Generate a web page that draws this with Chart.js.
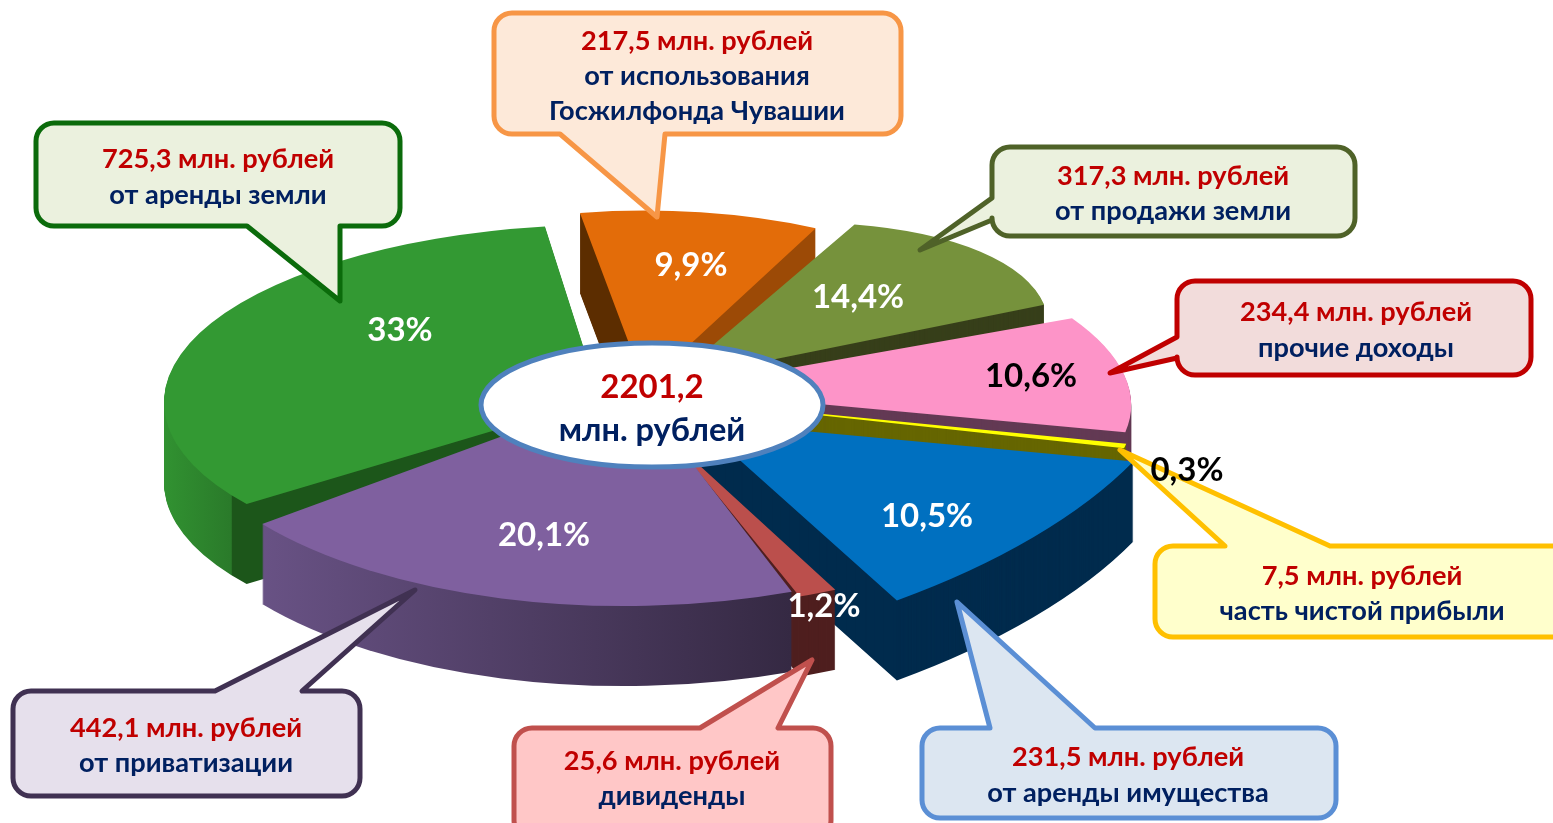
<!DOCTYPE html>
<html><head><meta charset="utf-8">
<style>html,body{margin:0;padding:0;background:#fff;overflow:hidden}canvas{display:block}</style>
<script src="https://cdn.jsdelivr.net/npm/chart.js@4"></script></head>
<body><canvas id="c" width="1553" height="823"></canvas>
<script>
// ---- data ----
const categories = ["от использования Госжилфонда Чувашии","от продажи земли","прочие доходы","часть чистой прибыли","от аренды имущества","дивиденды","от приватизации","от аренды земли"];
const values = [217.5,317.3,234.4,7.5,231.5,25.6,442.1,725.3];
const percents = ["9,9%","14,4%","10,6%","0,3%","10,5%","1,2%","20,1%","33%"];
const totalLines = ["2201,2","млн. рублей"];
// ---- style ----
const topColors = ["#E36C09","#76923C","#FD94C8","#FFFF00","#0070C0","#BB4F4C","#7F609F","#339933"];
const sideColors = [
  [[580,"#5c2d00"],[640,"#5c2d00"],[640.5,"#9c4a06"],[830,"#9c4a06"]],
  "#373f1a","#633a54","#666600","#002b4d","#4f1f1f",
  [[240,"#6b5488"],[800,"#352943"]],
  [[165,"#319231"],[236,"#2a7a2a"],[237,"#1c561a"],[600,"#1c561a"]]
];
const drawOrder = [0,1,2,3,7,4,5,6];
const pieCenter = {x:650,y:400}, depth = 80, firstAngle = -9.6;
// per-slice explosion and projection adjustments (perspective of the 3D pie)
const explodeX = [-5,22,17,20,46,25,-16,-50];
const explodeY = [-14,-20,-10,-1,21,43,-12,-1];
const tilts = [0.45,0.42,0.45,0.45,0.45,0.45,0.45,0.40];
const shears = [0,0.03,0.3,0,0,0,0,-0.05];
const turn = [0,-6.3,-11.35,-13.9,-8.9,-0.5,0.2,1.2];
const widen = [1,0.70,0.836,1,1.41,1.466,0.96,1];
const radii = [390,437,463,467,425,363,486,436];
const labelPos = [[691,265,"#fff"],[858,297,"#fff"],[1031,376,"#000"],[1187,470,"#000"],[927,516,"#fff"],[824,606,"#fff"],[544,535,"#fff"],[400,330,"#fff"]];
const FONT = 'Lato, "Open Sans", sans-serif';
const RED="#C00000", NAVY="#002060";
const callouts = [
 {r:[494,13,407,121],fill:"#FDE9D9",stroke:"#F79646",tail:["b",560,665,657,217],cx:697,lines:[["217,5 млн. рублей",41,RED],["от использования",76,NAVY],["Госжилфонда Чувашии",111,NAVY]]},
 {r:[36,123,364,103],fill:"#EBF1DE",stroke:"#0B6B0B",tail:["b",247,340,340,301],cx:218,lines:[["725,3 млн. рублей",159,RED],["от аренды земли",195,NAVY]]},
 {r:[992,147,363,89],fill:"#EBF1DE",stroke:"#4F6228",tail:["l",198,220,920,250],cx:1173,lines:[["317,3 млн. рублей",176,RED],["от продажи земли",211,NAVY]]},
 {r:[1177,281,354,94],fill:"#F2DCDB",stroke:"#C00000",tail:["l",337,358,1110,373],cx:1356,lines:[["234,4 млн. рублей",312,RED],["прочие доходы",348,NAVY]]},
 {r:[1155,546,420,91],fill:"#FFFFCC",stroke:"#FFC000",tail:["t",1225,1330,1120,450],cx:1362,lines:[["7,5 млн. рублей",576,RED],["часть чистой прибыли",611,NAVY]]},
 {r:[922,728,414,90],fill:"#DCE6F1",stroke:"#5B8FD5",tail:["t",990,1095,957,602],cx:1128,lines:[["231,5 млн. рублей",757,RED],["от аренды имущества",793,NAVY]]},
 {r:[514,728,317,110],fill:"#FFC7C7",stroke:"#C0504D",tail:["t",700,778,812,660],cx:672,lines:[["25,6 млн. рублей",761,RED],["дивиденды",796,NAVY]]},
 {r:[13,691,347,105],fill:"#E6E0EC",stroke:"#403152",tail:["t",215,302,415,590],cx:186,lines:[["442,1 млн. рублей",728,RED],["от приватизации",763,NAVY]]}
];
function sliceMatrix(el,i){
  const mid=(el.startAngle+el.endAngle)/2, rot=turn[i]*Math.PI/180, m=radii[i]/el.outerRadius;
  return new DOMMatrix()
    .translate(pieCenter.x+explodeX[i],pieCenter.y+explodeY[i])
    .skewX(Math.atan(shears[i])*180/Math.PI)
    .scale(1,tilts[i])
    .rotate((mid+rot)*180/Math.PI)
    .scale(m,m*widen[i])
    .rotate(-mid*180/Math.PI)
    .translate(-el.x,-el.y);
}
function sideFill(ctx,M,spec){
  if(typeof spec==="string") return spec;
  const inv=M.inverse(), y=pieCenter.y, x0=spec[0][0], x1=spec[spec.length-1][0];
  const a=inv.transformPoint(new DOMPoint(x0,y)), b=inv.transformPoint(new DOMPoint(x1,y));
  const g=ctx.createLinearGradient(a.x,a.y,b.x,b.y);
  spec.forEach(s=>g.addColorStop((s[0]-x0)/(x1-x0),s[1]));
  return g;
}
const pie3d={id:"pie3d",beforeDatasetsDraw(chart){
  const ctx=chart.ctx, els=chart.getDatasetMeta(0).data;
  drawOrder.forEach(i=>{
    const el=els[i], base=el.options, M=sliceMatrix(el,i);
    const side=Object.create(base); side.backgroundColor=sideFill(ctx,M,sideColors[i]); side.borderWidth=0;
    el.options=side;
    for(let d=depth;d>=1;d--){
      ctx.save(); ctx.setTransform(new DOMMatrix().translate(0,d).multiply(M)); el.draw(ctx); ctx.restore();
    }
    el.options=base;
    ctx.save(); ctx.setTransform(M); el.draw(ctx); ctx.restore();
  });
  return false;
}};
function calloutPath(ctx,c){
  const [x,y,w,h]=c.r, R=18, [edge,a,b,tx,ty]=c.tail;
  ctx.beginPath(); ctx.moveTo(x+R,y);
  if(edge==="t"){ctx.lineTo(a,y);ctx.lineTo(tx,ty);ctx.lineTo(b,y);}
  ctx.lineTo(x+w-R,y); ctx.arcTo(x+w,y,x+w,y+R,R);
  ctx.lineTo(x+w,y+h-R); ctx.arcTo(x+w,y+h,x+w-R,y+h,R);
  if(edge==="b"){ctx.lineTo(b,y+h);ctx.lineTo(tx,ty);ctx.lineTo(a,y+h);}
  ctx.lineTo(x+R,y+h); ctx.arcTo(x,y+h,x,y+h-R,R);
  if(edge==="l"){ctx.lineTo(x,b);ctx.lineTo(tx,ty);ctx.lineTo(x,a);}
  ctx.lineTo(x,y+R); ctx.arcTo(x,y,x+R,y,R); ctx.closePath();
}
const notes={id:"notes",afterDraw(chart){
  const ctx=chart.ctx; ctx.save();
  ctx.textAlign="center"; ctx.textBaseline="middle"; ctx.lineJoin="round";
  callouts.forEach(c=>{
    calloutPath(ctx,c); ctx.fillStyle=c.fill; ctx.fill();
    ctx.lineWidth=5; ctx.strokeStyle=c.stroke; ctx.stroke();
    ctx.font='bold 27.2px '+FONT;
    c.lines.forEach(l=>{ctx.fillStyle=l[2]; ctx.fillText(l[0],c.cx,l[1]);});
  });
  ctx.beginPath(); ctx.ellipse(652,405,171,62,0,0,Math.PI*2);
  ctx.fillStyle="#fff"; ctx.fill(); ctx.lineWidth=5; ctx.strokeStyle="#4F81BD"; ctx.stroke();
  ctx.font='bold 33px '+FONT; ctx.fillStyle=RED; ctx.fillText(totalLines[0],652,387);
  ctx.font='bold 32.5px '+FONT; ctx.fillStyle=NAVY; ctx.fillText(totalLines[1],652,431);
  ctx.font='bold 33px '+FONT;
  percents.forEach((p,i)=>{ctx.fillStyle=labelPos[i][2]; ctx.fillText(p,labelPos[i][0],labelPos[i][1]);});
  ctx.restore();
}};
new Chart(document.getElementById("c"),{
  type:"pie",
  data:{labels:categories,datasets:[{data:values,backgroundColor:topColors,borderWidth:0}]},
  options:{responsive:false,animation:false,rotation:firstAngle,
    layout:{padding:0},plugins:{legend:{display:false},tooltip:{enabled:false}}},
  plugins:[pie3d,notes]
});
</script></body></html>
